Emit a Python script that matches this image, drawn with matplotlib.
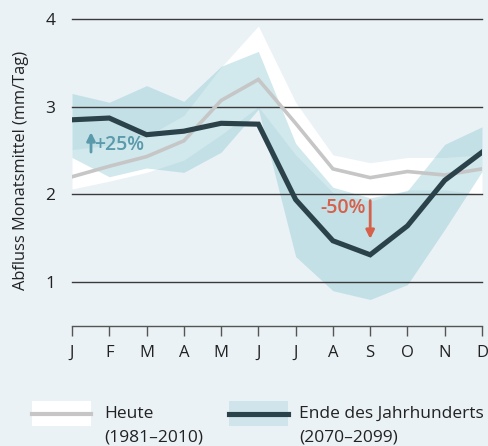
import matplotlib
matplotlib.use("Agg")
import matplotlib.pyplot as plt
from matplotlib.lines import Line2D
from matplotlib.patches import Rectangle

plt.rcParams['font.family'] = ['Open Sans', 'DejaVu Sans']

months = ['J', 'F', 'M', 'A', 'M', 'J', 'J', 'A', 'S', 'O', 'N', 'D']
yticks = [1, 2, 3, 4]

heute = [2.20, 2.32, 2.43, 2.61, 3.07, 3.31, 2.81, 2.29, 2.19, 2.26, 2.22, 2.29]
heute_lo = [2.06, 2.15, 2.25, 2.39, 2.68, 3.00, 2.45, 2.02, 1.92, 2.05, 2.05, 2.00]
heute_hi = [2.51, 2.56, 2.66, 2.90, 3.45, 3.92, 3.05, 2.45, 2.36, 2.42, 2.42, 2.45]

ende = [2.85, 2.87, 2.68, 2.72, 2.81, 2.80, 1.94, 1.47, 1.31, 1.64, 2.16, 2.48]
ende_lo = [2.42, 2.20, 2.30, 2.25, 2.48, 2.97, 1.29, 0.90, 0.80, 0.97, 1.60, 2.26]
ende_hi = [3.15, 3.05, 3.24, 3.06, 3.46, 3.63, 2.58, 2.08, 1.96, 2.04, 2.57, 2.77]

bg = '#eaf2f5'
dark = '#2c424a'
grey = '#c6c6c6'
band_col = (122/255, 190/255, 205/255)

fig = plt.figure(figsize=(4.88, 4.46), dpi=100, facecolor=bg)
ax = fig.add_axes([72/488, 1 - 325.8/446, 410/488, (325.8 - 14.6)/446])
ax.set_facecolor(bg)
x = list(range(12))

ax.fill_between(x, heute_lo, heute_hi, color='white', lw=0, zorder=1)
ax.fill_between(x, ende_lo, ende_hi, color=band_col, alpha=0.34, lw=0, zorder=2)

for v in yticks:
    ax.axhline(v, color='#3a3a3a', lw=1.0, zorder=3, clip_on=False)

ax.plot(x, heute, color=grey, lw=2.6, zorder=4, solid_joinstyle='miter')
ax.plot(x, ende, color=dark, lw=3.7, zorder=5, solid_joinstyle='miter')

ax.set_xlim(0, 11)
ax.set_ylim(0.5, 4.05)
for s in ['top', 'right', 'left']:
    ax.spines[s].set_visible(False)
ax.spines['bottom'].set_color('#555555')
ax.spines['bottom'].set_linewidth(1.0)
ax.set_xticks(x)
ax.set_xticklabels(months, fontsize=12, color='#222222')
ax.tick_params(axis='x', direction='out', length=7.5, width=1.0, color='#555555', pad=6)
ax.set_yticks(yticks)
ax.set_yticklabels([str(v) for v in yticks], fontsize=12.5, color='#222222')
ax.tick_params(axis='y', length=0, pad=12)
ax.set_ylabel('Abfluss Monatsmittel (mm/Tag)', fontsize=11.8, color='#222222', labelpad=12)

# annotations
teal = '#5b9aab'
red = '#d6604a'
ax.annotate('', xy=(0.51, 2.74), xytext=(0.51, 2.45),
            arrowprops=dict(arrowstyle='-|>,head_length=0.5,head_width=0.25', color=teal, lw=2),
            zorder=6)
ax.text(0.6, 2.56, '+25%', color=teal, fontsize=14, fontweight='semibold', va='center', ha='left', zorder=6)
ax.annotate('', xy=(8.0, 1.46), xytext=(8.0, 1.96),
            arrowprops=dict(arrowstyle='-|>,head_length=0.5,head_width=0.25', color=red, lw=2),
            zorder=6)
ax.text(7.88, 1.84, '-50%', color=red, fontsize=14, fontweight='semibold', va='center', ha='right', zorder=6)

# legend
def fx(px):
    return px / 488
def fy(py):
    return 1 - py / 446

fig.patches.append(Rectangle((fx(32), fy(426)), fx(91) - fx(32), fy(401) - fy(426),
                             transform=fig.transFigure, facecolor='white', edgecolor='none'))
fig.lines.append(Line2D([fx(32), fx(91)], [fy(413.5), fy(413.5)], transform=fig.transFigure,
                        color=grey, lw=3))
fig.patches.append(Rectangle((fx(229), fy(426)), fx(288) - fx(229), fy(401) - fy(426),
                             transform=fig.transFigure, facecolor='#cfe5eb', edgecolor='none'))
fig.lines.append(Line2D([fx(229), fx(288)], [fy(413.5), fy(413.5)], transform=fig.transFigure,
                        color=dark, lw=3.7))
for px, lines in [(104, ['Heute', '(1981\u20132010)']),
                  (299, ['Ende des Jahrhunderts', '(2070\u20132099)'])]:
    fig.text(fx(px), fy(414), lines[0], fontsize=12.5, color='#222222',
             va='center', ha='left', transform=fig.transFigure)
    fig.text(fx(px), fy(438), lines[1], fontsize=12.5, color='#222222',
             va='center', ha='left', transform=fig.transFigure)

fig.savefig('out.png', dpi=100, facecolor=bg)
